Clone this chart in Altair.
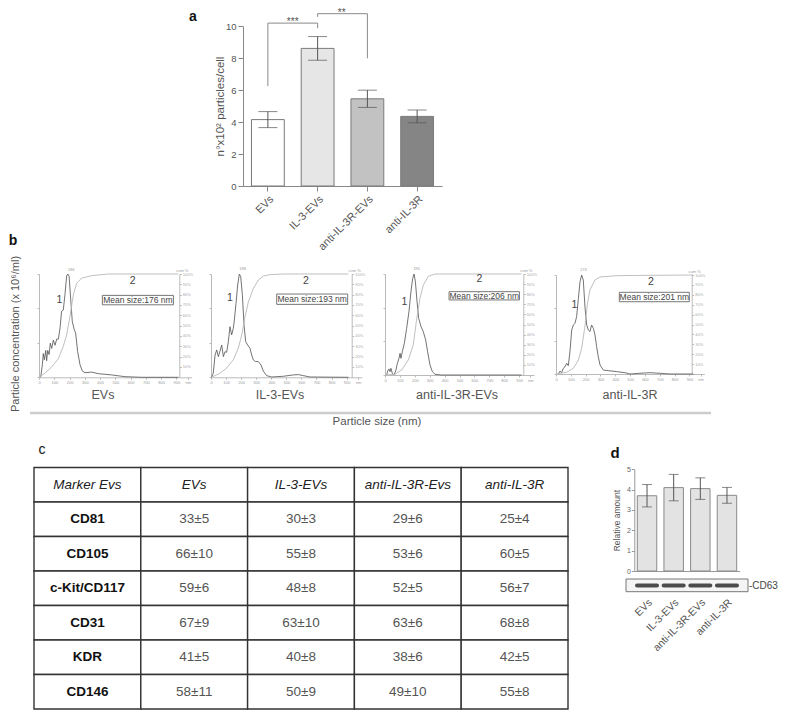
import altair as alt
import pandas as pd

W, H = 771, 702
FONT = "Liberation Sans"
GRAY = "#555555"


def PX(x):
    return x - 8


def PY(y):
    return y - 8


# ---------------- data ----------------
groups = ["EVs", "IL-3-EVs", "anti-IL-3R-EVs", "anti-IL-3R"]

# panel a
a_mean = [4.15, 8.6, 5.45, 4.35]
a_err = [0.5, 0.74, 0.54, 0.4]
sig1_x = ["EVs", "EVs", "IL-3-EVs", "IL-3-EVs"]
sig1_y = [6.24, 10.18, 10.18, 9.86]
sig2_x = ["IL-3-EVs", "IL-3-EVs", "anti-IL-3R-EVs", "anti-IL-3R-EVs"]
sig2_y = [10.57, 10.77, 10.77, 7.98]

# panel b (NTA size distributions, curve 1 = concentration % of peak, curve 2 = cumulative %)
s1 = [11, 22, 28, 35, 44, 50, 57, 66, 74, 83, 94, 105, 116, 127, 138, 148, 159, 170, 181, 188, 197, 207, 218, 231, 240, 253, 269, 284, 301, 345, 389, 476, 563, 672, 913]
c1 = [0, 12, 23, 17, 26, 16, 26, 22, 33, 28, 36, 31, 37, 37, 48, 64, 65, 80, 98, 100, 98, 77, 54, 46, 43, 25, 12, 6, 4.5, 5, 3.5, 2.3, 0.6, 0, 0]
cs1 = [0, 39, 83, 127, 159, 181, 203, 225, 247, 279, 345, 454, 913]
cu1 = [0, 4, 10, 18, 30, 41, 59, 80, 91, 96, 98.4, 100, 100]

s2 = [4, 15, 27, 38, 49, 60, 71, 82, 93, 104, 115, 126, 137, 148, 155, 166, 177, 188, 197, 208, 219, 230, 243, 259, 270, 281, 296, 314, 332, 347, 369, 403, 480, 546, 580, 613, 657, 912]
c2 = [0, 3.9, 21.6, 26.5, 20, 25.5, 31.3, 20, 24.8, 24.2, 34.5, 49, 41, 47.4, 55.5, 71.6, 89.4, 100, 97.7, 80, 51, 34.5, 31.3, 28, 21.6, 16.8, 15.2, 15.2, 11.9, 6.1, 1.6, 0.3, 1, 2.3, 2.6, 1.6, 0.3, 0]
cs2 = [4, 60, 104, 148, 181, 204, 226, 248, 281, 314, 347, 392, 480, 912]
cu2 = [0, 4, 9, 17, 28, 41, 59, 73, 86, 94, 98, 99.4, 100, 100]

s3 = [11, 18, 27, 34, 40, 49, 60, 72, 83, 94, 101, 107, 116, 130, 145, 161, 174, 186, 195, 204, 215, 226, 242, 257, 273, 286, 302, 318, 336, 380, 917]
c3 = [0, 4, 6, 3.3, 6.6, 1.7, 0, 4, 11.5, 16.5, 21.5, 16.5, 23, 31.4, 46, 63, 82.5, 95.7, 100, 92.4, 72.6, 56, 47.9, 42.9, 34.7, 23.1, 9.9, 3.3, 0.7, 0, 0]
cs3 = [0, 67, 112, 157, 190, 213, 235, 257, 291, 336, 917]
cu3 = [0, 0.7, 5, 15, 30, 56, 76, 89, 97.7, 100, 100]

s4 = [16, 27, 38, 49, 61, 72, 83, 94, 106, 117, 128, 139, 151, 162, 173, 184, 196, 207, 218, 229, 240, 252, 263, 274, 285, 297, 319, 353, 409, 465, 499, 566, 634, 701, 769, 926]
c4 = [0, 3, 1.3, 5.7, 7.4, 10.8, 8.4, 22.6, 44.4, 49.5, 51.2, 57.9, 76.4, 93.3, 100, 94.9, 66.3, 49.5, 44.4, 42.8, 49.5, 46.1, 39.4, 27.6, 17.5, 9.1, 4, 3.4, 2.4, 1.3, 0, 0.7, 1.3, 0.7, 0, 0]
cs4 = [0, 72, 117, 151, 173, 196, 211, 229, 263, 297, 409, 521, 926]
cu4 = [0, 1.7, 5.7, 14, 26, 49, 70, 85, 95, 98, 99.3, 99.5, 100]

mean_sizes = ["176", "193", "206", "201"]

# panel c (table)
table_cols = ["Marker Evs", "EVs", "IL-3-EVs", "anti-IL-3R-Evs", "anti-IL-3R"]
markers = ["CD81", "CD105", "c-Kit/CD117", "CD31", "KDR", "CD146"]
ev_vals = ["33±5", "66±10", "59±6", "67±9", "41±5", "58±11"]
il3_vals = ["30±3", "55±8", "48±8", "63±10", "40±8", "50±9"]
anti_ev_vals = ["29±6", "53±6", "52±5", "63±6", "38±6", "49±10"]
anti_vals = ["25±4", "60±5", "56±7", "68±8", "42±5", "55±8"]

# panel d
d_mean = [3.7, 4.1, 4.05, 3.72]
d_err = [0.55, 0.65, 0.53, 0.39]

# ---------------- helpers ----------------
layers = []


def txt(text, x, y, size=11, color=GRAY, weight="normal", style="normal",
        align="center", baseline="middle", angle=0):
    return alt.Chart(pd.DataFrame({"t": [text]})).mark_text(
        fontSize=size, color=color, fontWeight=weight, fontStyle=style,
        align=align, baseline=baseline, angle=angle, font=FONT
    ).encode(x=alt.value(PX(x)), y=alt.value(PY(y)), text="t:N")


# ---------------- panel a ----------------
df_a = pd.DataFrame({"group": groups, "mean": a_mean, "err": a_err})
df_a["lo"] = df_a["mean"] - df_a["err"]
df_a["hi"] = df_a["mean"] + df_a["err"]
xa = alt.Scale(domain=groups, range=[PX(243), PX(442)], paddingInner=0.34, paddingOuter=0.17)
ya = alt.Scale(domain=[0, 10], range=[PY(186), PY(26)], nice=False, zero=False)
a_fills = ["#ffffff", "#e6e6e6", "#c2c2c2", "#858585"]

layers.append(alt.Chart(df_a).mark_bar(stroke="#7a7a7a", strokeWidth=1).encode(
    x=alt.X("group:N", scale=xa, title=None,
            axis=alt.Axis(orient="bottom", offset=PY(186) - H, labelAngle=-45,
                          labelFontSize=11, labelColor=GRAY, tickSize=5,
                          tickColor="#888", domainColor="#888", labelPadding=2)),
    y=alt.Y("mean:Q", scale=ya,
            axis=alt.Axis(orient="left", offset=-PX(243), values=[0, 2, 4, 6, 8, 10],
                          tickSize=5, labelFontSize=9.5, labelColor=GRAY,
                          tickColor="#888", domainColor="#888",
                          title="n°x10² particles/cell", titleFontSize=11.5,
                          titleFontWeight="normal", titleColor=GRAY, titlePadding=0)),
    color=alt.Color("group:N", scale=alt.Scale(domain=groups, range=a_fills), legend=None),
))
layers.append(alt.Chart(df_a).mark_rule(color="#555", strokeWidth=1).encode(
    x=alt.X("group:N", scale=xa, axis=None),
    y=alt.Y("lo:Q", scale=ya, axis=None), y2="hi:Q"))
for col in ["lo", "hi"]:
    layers.append(alt.Chart(df_a).mark_tick(orient="horizontal", size=19, thickness=1, color="#555").encode(
        x=alt.X("group:N", scale=xa, axis=None),
        y=alt.Y(f"{col}:Q", scale=ya, axis=None)))

df_sig = pd.DataFrame({
    "bx": sig1_x + sig2_x,
    "by": sig1_y + sig2_y,
    "id": ["s1"] * 4 + ["s2"] * 4,
    "ord": [0, 1, 2, 3] * 2,
})
layers.append(alt.Chart(df_sig).mark_line(color="#8a8a8a", strokeWidth=1).encode(
    x=alt.X("bx:N", scale=xa, axis=None),
    y=alt.Y("by:Q", scale=ya, axis=None),
    detail="id:N", order="ord:Q"))
layers.append(txt("***", 292.7, 25, size=10, baseline="alphabetic"))
layers.append(txt("**", 341.7, 15.6, size=10, baseline="alphabetic"))
layers.append(txt("a", 193, 17, size=14, color="#111", weight="bold"))

# ---------------- panel b ----------------
nta = [
    dict(size=s1, conc=c1, cs=cs1, cum=cu1, x0=39, p100=15.27, bottom=377.3, top=274, xr=179.3,
         n1=(133, 75), n2=(613, 93.5), box=(415, 880, 70.2, 79.3), peak=("186", 210, 104)),
    dict(size=s2, conc=c2, cs=cs2, cum=cu2, x0=211, p100=15.07, bottom=377.3, top=274, xr=351.7,
         n1=(126, 77), n2=(630, 93.5), box=(436, 907, 70.6, 80.6), peak=("188", 210, 105)),
    dict(size=s3, conc=c3, cs=cs3, cum=cu3, x0=385, p100=14.9, bottom=375, top=274, xr=523.3,
         n1=(130, 72), n2=(633, 95), box=(430, 902, 74.3, 82.5), peak=("195", 213, 105)),
    dict(size=s4, conc=c4, cs=cs4, cum=cu4, x0=556, p100=14.83, bottom=374, top=275, xr=691.7,
         n1=(124, 70), n2=(640, 93), box=(427, 899, 73, 82.5), peak=("173", 184, 105)),
]
captions = [("EVs", 103), ("IL-3-EVs", 280), ("anti-IL-3R-EVs", 457), ("anti-IL-3R", 630)]

for k, p in enumerate(nta):
    xs = alt.Scale(domain=[0, 1000], range=[PX(p["x0"]), PX(p["x0"] + 10 * p["p100"])], nice=False, zero=False)
    ys = alt.Scale(domain=[0, 100], range=[PY(p["bottom"]), PY(p["top"])], nice=False, zero=False)
    dfc = pd.DataFrame({"size": p["size"], "conc": p["conc"]})
    dfu = pd.DataFrame({"size": p["cs"], "cum": p["cum"]})
    layers.append(alt.Chart(dfc).mark_line(color="#5a5a5a", strokeWidth=0.85).encode(
        x=alt.X("size:Q", scale=xs, title=None,
                axis=alt.Axis(orient="bottom", offset=PY(p["bottom"]) - H,
                              values=[0, 100, 200, 300, 400, 500, 600, 700, 800, 900, 975],
                              labelExpr="datum.value > 950 ? 'nm' : datum.label",
                              labelFontSize=4, labelColor="#999", tickSize=2, labelPadding=1,
                              tickColor="#bbb", domainColor="#bbb", labelFlush=False)),
        y=alt.Y("conc:Q", scale=ys, title=None,
                axis=alt.Axis(orient="left", offset=-PX(p["x0"]), values=[0, 33.3, 66.7, 100],
                              labels=False, tickSize=2, tickColor="#bbb", domainColor="#bbb")),
    ))
    layers.append(alt.Chart(dfu).mark_line(color="#b8b8b8", strokeWidth=0.9).encode(
        x=alt.X("size:Q", scale=xs, axis=None),
        y=alt.Y("cum:Q", scale=ys, title=None,
                axis=alt.Axis(orient="right", offset=PX(p["xr"]) - W,
                              values=[10, 20, 30, 40, 50, 60, 70, 80, 90, 100],
                              labelExpr="datum.value + '%'", labelFontSize=4, labelColor="#aaa",
                              tickSize=2, labelPadding=1, tickColor="#bbb", domainColor="#bbb",
                              labelFlush=False)),
    ))
    bx1, bx2, by1, by2 = p["box"]
    dfb = pd.DataFrame({"x1": [bx1], "x2": [bx2], "y1": [by1], "y2": [by2],
                        "xm": [(bx1 + bx2) / 2], "ym": [(by1 + by2) / 2],
                        "t": [f"Mean size:{mean_sizes[k]} nm"]})
    layers.append(alt.Chart(dfb).mark_rect(fillOpacity=0, stroke="#666", strokeWidth=0.9).encode(
        x=alt.X("x1:Q", scale=xs, axis=None), x2="x2:Q",
        y=alt.Y("y1:Q", scale=ys, axis=None), y2="y2:Q"))
    layers.append(alt.Chart(dfb).mark_text(fontSize=8.5, color="#444", font=FONT).encode(
        x=alt.X("xm:Q", scale=xs, axis=None), y=alt.Y("ym:Q", scale=ys, axis=None), text="t:N"))
    dfl = pd.DataFrame({"x": [p["n1"][0], p["n2"][0]], "y": [p["n1"][1], p["n2"][1]], "t": ["1", "2"]})
    layers.append(alt.Chart(dfl).mark_text(fontSize=10.5, color="#444", font=FONT).encode(
        x=alt.X("x:Q", scale=xs, axis=None), y=alt.Y("y:Q", scale=ys, axis=None), text="t:N"))
    dfp = pd.DataFrame({"x": [p["peak"][1]], "y": [p["peak"][2]], "t": [p["peak"][0]]})
    layers.append(alt.Chart(dfp).mark_text(fontSize=4, color="#999", font=FONT).encode(
        x=alt.X("x:Q", scale=xs, axis=None), y=alt.Y("y:Q", scale=ys, axis=None), text="t:N"))
    layers.append(txt("cum %", p["xr"] + 3, p["top"] - 3, size=4, color="#999"))
    layers.append(txt(captions[k][0], captions[k][1], 395, size=12.5, color=GRAY))

layers.append(alt.Chart(pd.DataFrame({"v": [0]})).mark_rule(color="#cccccc", strokeWidth=2.5).encode(
    x=alt.value(PX(30)), x2=alt.value(PX(711)), y=alt.value(PY(413))))
layers.append(txt("Particle size (nm)", 377, 422, size=11.5, color=GRAY))
layers.append(txt("Particle concentration (x 10⁶/ml)", 16, 334, size=11, color=GRAY, angle=270))
layers.append(txt("b", 13, 241, size=14, color="#111", weight="bold"))

# ---------------- panel c (table) ----------------
row_ids = ["header"] + markers
cells = []
for c_i, cname in enumerate(table_cols):
    cells.append({"row": "header", "col": cname, "t": cname, "kind": "header"})
for r_i, m in enumerate(markers):
    cells.append({"row": m, "col": table_cols[0], "t": m, "kind": "marker"})
    for cname, vals in zip(table_cols[1:], [ev_vals, il3_vals, anti_ev_vals, anti_vals]):
        cells.append({"row": m, "col": cname, "t": vals[r_i], "kind": "value"})
df_t = pd.DataFrame(cells)
xt = alt.Scale(domain=table_cols, range=[PX(34), PX(568)], paddingInner=0, paddingOuter=0)
yt = alt.Scale(domain=row_ids, range=[PY(467.5), PY(709)], paddingInner=0, paddingOuter=0)
layers.append(alt.Chart(df_t).mark_rect(fill="white", stroke="#333", strokeWidth=1.4).encode(
    x=alt.X("col:N", scale=xt, axis=None), y=alt.Y("row:N", scale=yt, axis=None)))
for kind, style, weight, color, bpos in [("header", "italic", "normal", "#222", 0.82),
                                         ("marker", "normal", "bold", "#111", 0.68),
                                         ("value", "normal", "normal", "#555", 0.68)]:
    layers.append(alt.Chart(df_t).transform_filter(alt.datum.kind == kind).mark_text(
        fontSize=13.5, fontStyle=style, fontWeight=weight, color=color, font=FONT).encode(
        x=alt.X("col:N", scale=xt, axis=None),
        y=alt.Y("row:N", scale=yt, axis=None, bandPosition=bpos),
        text="t:N"))
layers.append(txt("c", 42, 450, size=14, color="#111"))

# ---------------- panel d ----------------
df_d = pd.DataFrame({"group": groups, "mean": d_mean, "err": d_err})
df_d["lo"] = df_d["mean"] - df_d["err"]
df_d["hi"] = df_d["mean"] + df_d["err"]
xd = alt.Scale(domain=groups, range=[PX(634.3), PX(739.7)], paddingInner=0.27, paddingOuter=0.1125)
yd = alt.Scale(domain=[0, 5], range=[PY(571), PY(469.3)], nice=False, zero=False)
layers.append(alt.Chart(df_d).mark_bar(fill="#e3e3e3", stroke="#8a8a8a", strokeWidth=1).encode(
    x=alt.X("group:N", scale=xd, title=None,
            axis=alt.Axis(orient="bottom", offset=PY(571) - H, ticks=False, labelAngle=-45,
                          labelPadding=26, labelFontSize=10.5, labelColor=GRAY, domainColor="#999")),
    y=alt.Y("mean:Q", scale=yd,
            axis=alt.Axis(orient="left", offset=-PX(634.3), values=[0, 1, 2, 3, 4, 5],
                          tickSize=3, labelFontSize=7, labelColor="#666", tickColor="#999",
                          domainColor="#999", labelPadding=1, title="Relative amount",
                          titleFontSize=8.5, titleFontWeight="normal", titleColor=GRAY,
                          titlePadding=5)),
))
layers.append(alt.Chart(df_d).mark_rule(color="#555", strokeWidth=1).encode(
    x=alt.X("group:N", scale=xd, axis=None),
    y=alt.Y("lo:Q", scale=yd, axis=None), y2="hi:Q"))
for col in ["lo", "hi"]:
    layers.append(alt.Chart(df_d).mark_tick(orient="horizontal", size=10, thickness=1, color="#555").encode(
        x=alt.X("group:N", scale=xd, axis=None),
        y=alt.Y(f"{col}:Q", scale=yd, axis=None)))
layers.append(alt.Chart(pd.DataFrame({"v": [0]})).mark_rect(fill="#f4f4f4", stroke="#777", strokeWidth=1).encode(
    x=alt.value(PX(626)), x2=alt.value(PX(748)), y=alt.value(PY(579)), y2=alt.value(PY(591.7))))
layers.append(alt.Chart(df_d).mark_tick(orient="horizontal", size=24, thickness=4, color="#3a3a3a",
                                        cornerRadius=2, opacity=0.9).encode(
    x=alt.X("group:N", scale=xd, axis=None), y=alt.value(PY(585.5))))
layers.append(txt("-CD63", 749, 585.7, size=10, color="#444", align="left"))
layers.append(txt("d", 615, 453, size=15, color="#111", weight="bold"))

chart = alt.layer(*layers).resolve_scale(
    x="independent", y="independent", color="independent"
).properties(
    width=W, height=H, autosize=alt.AutoSizeParams(type="none"), padding=0
).configure(font=FONT, background="white").configure_view(strokeWidth=0).configure_axis(
    grid=False, labelFont=FONT, titleFont=FONT)

chart.save("out.html", embed_options={"renderer": "svg", "actions": False})
